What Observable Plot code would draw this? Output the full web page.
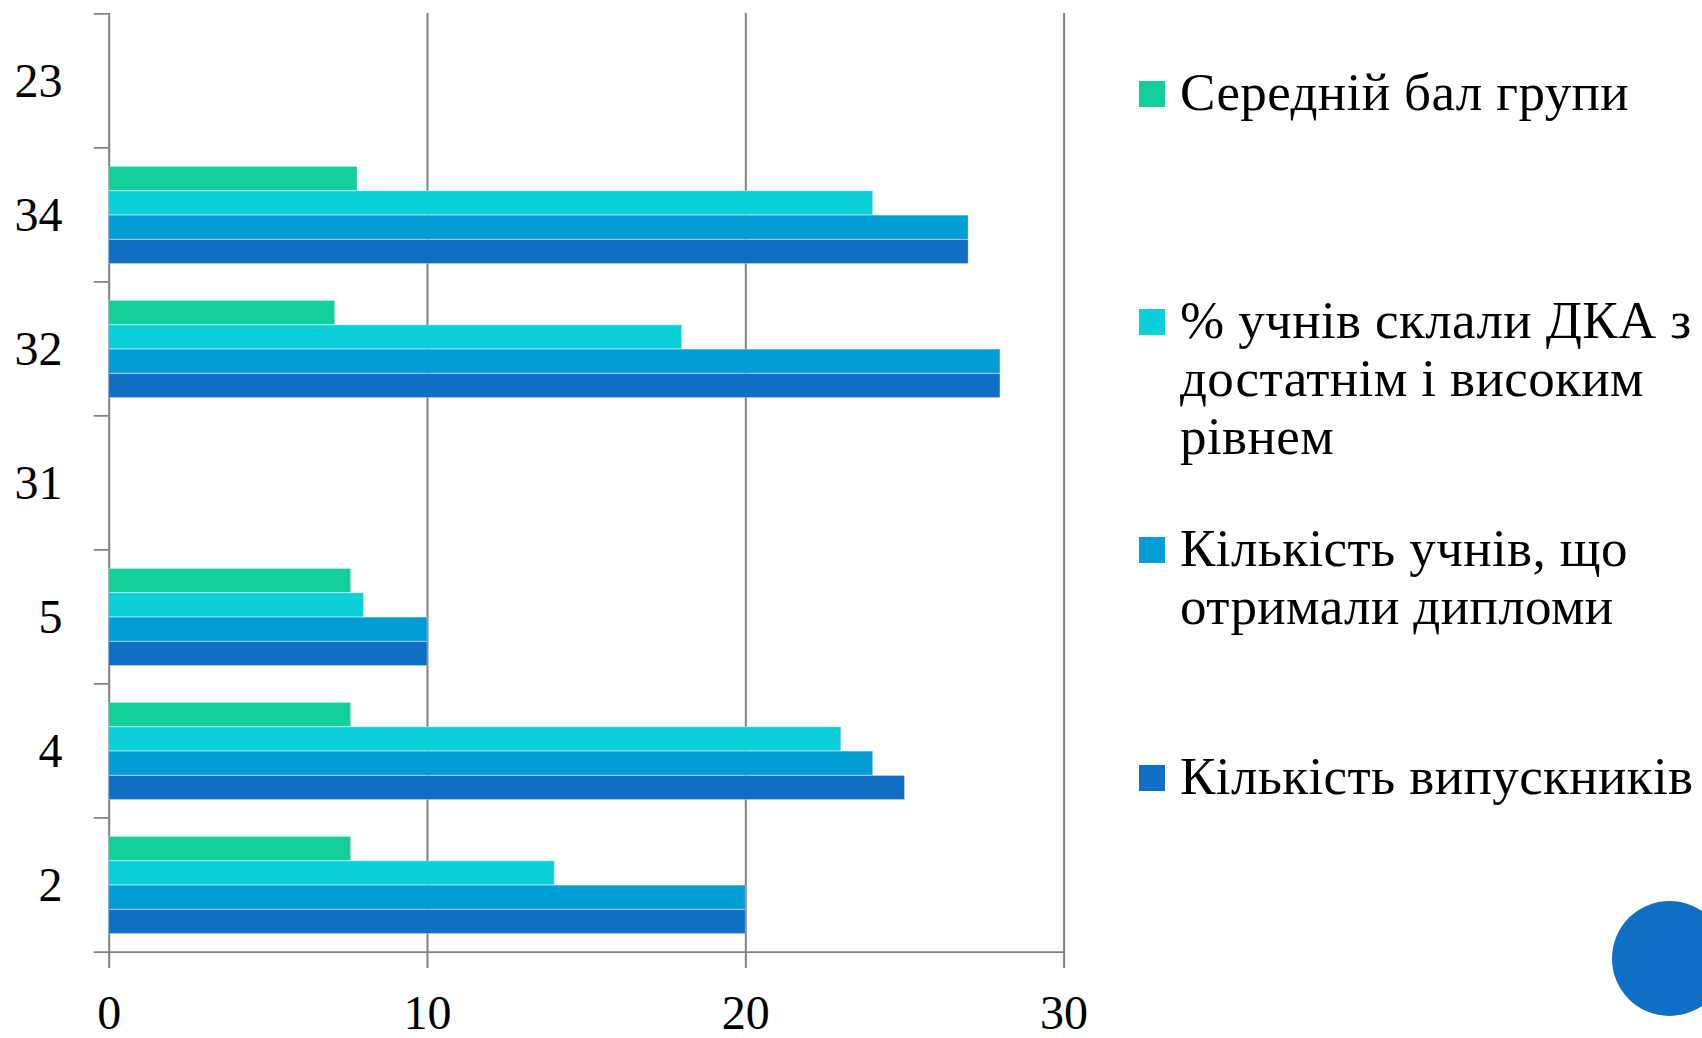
<!DOCTYPE html>
<html>
<head>
<meta charset="utf-8">
<script src="https://cdn.jsdelivr.net/npm/d3@7"></script>
<script src="https://cdn.jsdelivr.net/npm/@observablehq/plot@0.6"></script>
<style>
  html, body { margin: 0; padding: 0; background: #fff; width: 1702px; height: 1038px; overflow: hidden; position: relative; }
  #chart { position: absolute; left: 0; top: 0; }
  #legend { position: absolute; left: 1139px; top: 63px; display: grid; grid-auto-rows: 228px;
            font-family: "Liberation Serif", serif; font-size: 53px; line-height: 58px; color: #000; letter-spacing: 0.4px; }
  .item { position: relative; padding-left: 41px; white-space: pre-line; }
  .sw { position: absolute; left: 0; top: 17.5px; width: 26px; height: 26px; }
  #dot { position: absolute; left: 1612px; top: 901px; width: 115px; height: 115px; border-radius: 50%; background: #106FC5; }
</style>
</head>
<body>
<div id="chart"></div>
<div id="legend"></div>
<div id="dot"></div>
<script>
// ---- data ----
const categories = ["23", "34", "32", "31", "5", "4", "2"];
const avgScore   = [null, 7.8, 7.1, null, 7.6, 7.6, 7.6];
const pctHigh    = [null, 24, 18, null, 8, 23, 14];
const diplomas   = [null, 27, 28, null, 10, 24, 20];
const graduates  = [null, 27, 28, null, 10, 25, 20];
const seriesNames = [
  "Середній бал групи",
  "% учнів склали ДКА з\nдостатнім і високим\nрівнем",
  "Кількість учнів, що\nотримали дипломи",
  "Кількість випускників"
];
const seriesColors = ["#13D09B", "#0BCFD9", "#029DD7", "#106FC5"];
const xTicks = [0, 10, 20, 30];

// ---- layout ----
const W = 1100, H = 1038, mT = 13, mB = 85, mL = 108.7, mR = 36.4;
const bw = (H - mT - mB) / categories.length;
const padOuter = 0.1375 * bw;
const barH = (bw - 2 * padOuter) / 4;
const gray = "#808080";

const seriesValues = [avgScore, pctHigh, diplomas, graduates];
const barMarks = seriesValues.map((vals, i) => {
  const rows = categories.map((c, k) => ({cat: c, value: vals[k]})).filter(d => d.value != null);
  return Plot.barX(rows, {
    y: "cat", x: "value", fill: seriesColors[i],
    insetTop: padOuter + i * barH,
    insetBottom: bw - padOuter - (i + 1) * barH,
    stroke: "#ffffff", strokeOpacity: 0.3, strokeWidth: 1
  });
});

const chart = Plot.plot({
  width: W, height: H,
  marginTop: mT, marginBottom: mB, marginLeft: mL, marginRight: mR,
  x: {domain: [0, 30]},
  y: {domain: categories, padding: 0},
  style: {fontFamily: '"Liberation Serif", serif', color: "#000", background: "transparent", overflow: "visible"},
  marks: [
    Plot.gridX(xTicks, {stroke: gray, strokeOpacity: 1, strokeWidth: 2}),
    // category boundary ticks on the y axis
    Plot.barX(categories, {y: d => d, x1: 0, x2: 0, insetLeft: -15, insetTop: -1, insetBottom: bw - 1, fill: gray}),
    // x axis baseline (extends left as the last boundary tick)
    Plot.barX(categories.slice(-1), {y: d => d, x1: 0, x2: 30, insetLeft: -15, insetTop: bw - 1, insetBottom: -1, fill: gray}),
    ...barMarks,
    Plot.axisX(xTicks, {tickSize: 15, tickPadding: 26, stroke: gray, strokeWidth: 2, fontSize: 48, fill: "#000", label: null}),
    Plot.axisY({tickSize: 0, tickPadding: 46.7, fontSize: 48, fill: "#000", label: null})
  ]
});
document.getElementById("chart").appendChild(chart);

// ---- legend ----
const legend = document.getElementById("legend");
seriesNames.forEach((name, i) => {
  const item = document.createElement("div");
  item.className = "item";
  const sw = document.createElement("span");
  sw.className = "sw";
  sw.style.background = seriesColors[i];
  item.appendChild(sw);
  item.appendChild(document.createTextNode(name));
  legend.appendChild(item);
});
</script>
</body>
</html>
